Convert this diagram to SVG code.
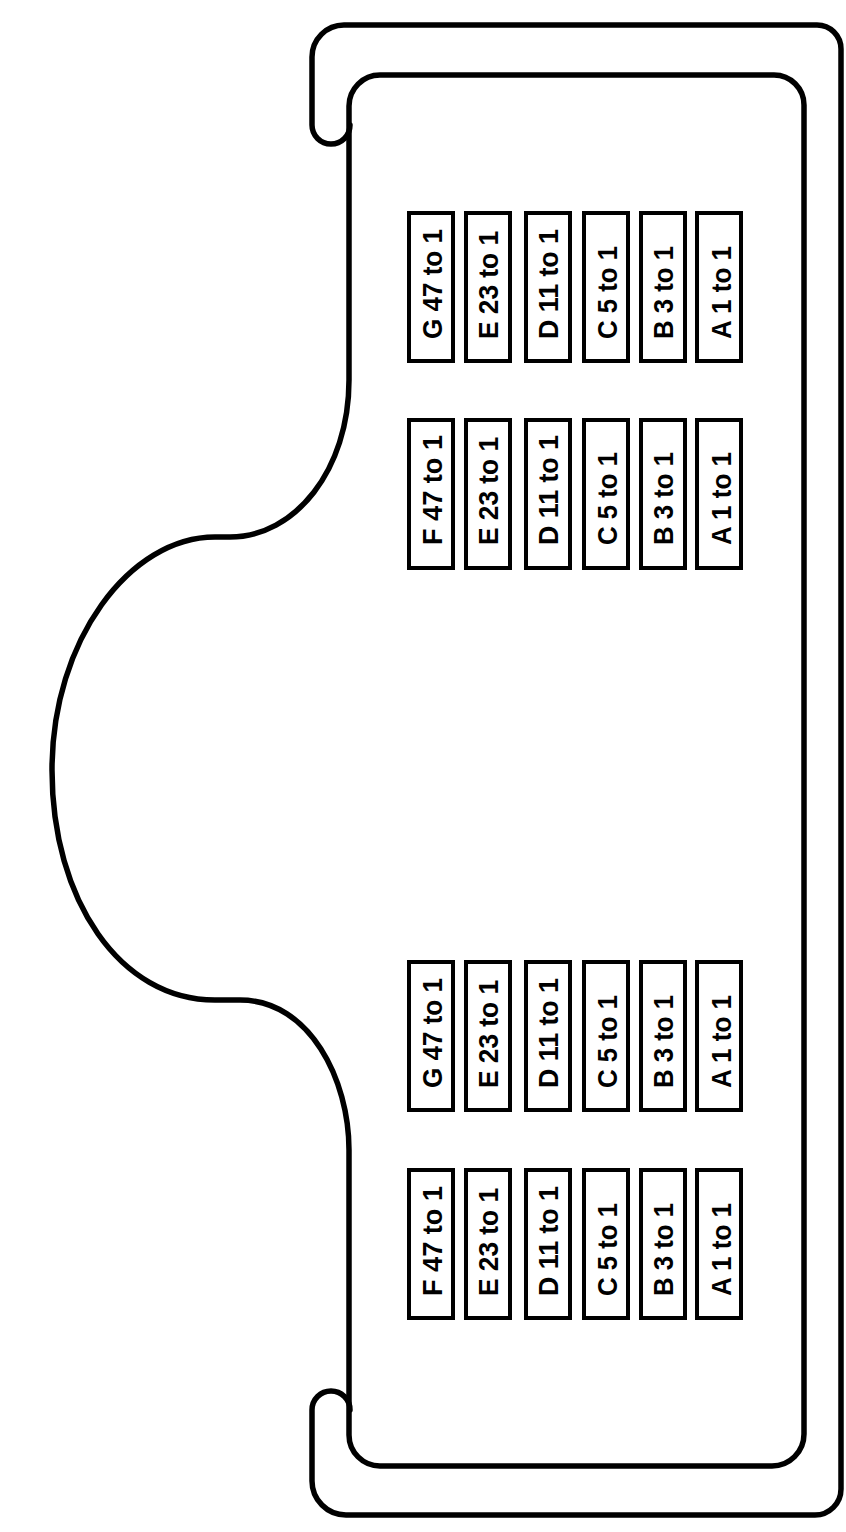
<svg xmlns="http://www.w3.org/2000/svg" width="846" height="1532" viewBox="0 0 846 1532">
<style>
.frame{fill:none;stroke:#000;stroke-width:5.5;stroke-linejoin:round;stroke-linecap:round}
.box{fill:#fff;stroke:#000;stroke-width:4}
.lbl{font-family:"Liberation Sans",Arial,sans-serif;font-weight:bold;font-size:27px;fill:#000}
</style>
<rect x="0" y="0" width="846" height="1532" fill="#fff"/>
<g id="housing">
<path class="frame" d="M 350,125 A 19 19 0 0 1 312,125 L 312,57 A 32 32 0 0 1 344,25 L 817,25 A 24 24 0 0 1 841,49 L 841,1489 A 26 26 0 0 1 815,1515 L 346,1515 A 34 34 0 0 1 312,1481 L 312,1410 A 19 19 0 0 1 350,1410"/>
<path class="frame" d="M 380,75 L 774,75 A 30 30 0 0 1 804,105 L 804,1434 A 32 32 0 0 1 772,1466 L 380,1466 A 31 31 0 0 1 349,1435 L 349,1150 C 349,1080 310,1000 240,1000 L 215,1000 C 120,1000 52,900 52,770 C 52,640 130,537 215,537 L 230,537 C 295,537 349,470 349,380 L 349,106 A 31 31 0 0 1 380,75 Z"/>
</g>
<g id="connectors"></g>

<g id="bank1">
<g id="b1-G"><rect class="box" x="409" y="213" width="44" height="148"/><text class="lbl" textLength="110" lengthAdjust="spacingAndGlyphs" transform="translate(442,339) rotate(-90)">G 47 to 1</text></g>
<g id="b1-E"><rect class="box" x="466" y="213" width="44" height="148"/><text class="lbl" textLength="108" lengthAdjust="spacingAndGlyphs" transform="translate(498,339) rotate(-90)">E 23 to 1</text></g>
<g id="b1-D"><rect class="box" x="526" y="213" width="44" height="148"/><text class="lbl" textLength="110" lengthAdjust="spacingAndGlyphs" transform="translate(558,339) rotate(-90)">D 11 to 1</text></g>
<g id="b1-C"><rect class="box" x="584" y="213" width="44" height="148"/><text class="lbl" textLength="93" lengthAdjust="spacingAndGlyphs" transform="translate(617,339) rotate(-90)">C 5 to 1</text></g>
<g id="b1-B"><rect class="box" x="641" y="213" width="44" height="148"/><text class="lbl" textLength="93" lengthAdjust="spacingAndGlyphs" transform="translate(673,339) rotate(-90)">B 3 to 1</text></g>
<g id="b1-A"><rect class="box" x="697" y="213" width="44" height="148"/><text class="lbl" textLength="93" lengthAdjust="spacingAndGlyphs" transform="translate(731,339) rotate(-90)">A 1 to 1</text></g>
</g>

<g id="bank2">
<g id="b2-F"><rect class="box" x="409" y="420" width="44" height="148"/><text class="lbl" textLength="110" lengthAdjust="spacingAndGlyphs" transform="translate(442,545) rotate(-90)">F 47 to 1</text></g>
<g id="b2-E"><rect class="box" x="466" y="420" width="44" height="148"/><text class="lbl" textLength="108" lengthAdjust="spacingAndGlyphs" transform="translate(498,545) rotate(-90)">E 23 to 1</text></g>
<g id="b2-D"><rect class="box" x="526" y="420" width="44" height="148"/><text class="lbl" textLength="110" lengthAdjust="spacingAndGlyphs" transform="translate(558,545) rotate(-90)">D 11 to 1</text></g>
<g id="b2-C"><rect class="box" x="584" y="420" width="44" height="148"/><text class="lbl" textLength="93" lengthAdjust="spacingAndGlyphs" transform="translate(617,545) rotate(-90)">C 5 to 1</text></g>
<g id="b2-B"><rect class="box" x="641" y="420" width="44" height="148"/><text class="lbl" textLength="93" lengthAdjust="spacingAndGlyphs" transform="translate(673,545) rotate(-90)">B 3 to 1</text></g>
<g id="b2-A"><rect class="box" x="697" y="420" width="44" height="148"/><text class="lbl" textLength="93" lengthAdjust="spacingAndGlyphs" transform="translate(731,545) rotate(-90)">A 1 to 1</text></g>
</g>

<g id="bank3">
<g id="b3-G"><rect class="box" x="409" y="962" width="44" height="148"/><text class="lbl" textLength="110" lengthAdjust="spacingAndGlyphs" transform="translate(442,1088) rotate(-90)">G 47 to 1</text></g>
<g id="b3-E"><rect class="box" x="466" y="962" width="44" height="148"/><text class="lbl" textLength="108" lengthAdjust="spacingAndGlyphs" transform="translate(498,1088) rotate(-90)">E 23 to 1</text></g>
<g id="b3-D"><rect class="box" x="526" y="962" width="44" height="148"/><text class="lbl" textLength="110" lengthAdjust="spacingAndGlyphs" transform="translate(558,1088) rotate(-90)">D 11 to 1</text></g>
<g id="b3-C"><rect class="box" x="584" y="962" width="44" height="148"/><text class="lbl" textLength="93" lengthAdjust="spacingAndGlyphs" transform="translate(617,1088) rotate(-90)">C 5 to 1</text></g>
<g id="b3-B"><rect class="box" x="641" y="962" width="44" height="148"/><text class="lbl" textLength="93" lengthAdjust="spacingAndGlyphs" transform="translate(673,1088) rotate(-90)">B 3 to 1</text></g>
<g id="b3-A"><rect class="box" x="697" y="962" width="44" height="148"/><text class="lbl" textLength="93" lengthAdjust="spacingAndGlyphs" transform="translate(731,1088) rotate(-90)">A 1 to 1</text></g>
</g>

<g id="bank4">
<g id="b4-F"><rect class="box" x="409" y="1170" width="44" height="148"/><text class="lbl" textLength="110" lengthAdjust="spacingAndGlyphs" transform="translate(442,1296) rotate(-90)">F 47 to 1</text></g>
<g id="b4-E"><rect class="box" x="466" y="1170" width="44" height="148"/><text class="lbl" textLength="108" lengthAdjust="spacingAndGlyphs" transform="translate(498,1296) rotate(-90)">E 23 to 1</text></g>
<g id="b4-D"><rect class="box" x="526" y="1170" width="44" height="148"/><text class="lbl" textLength="110" lengthAdjust="spacingAndGlyphs" transform="translate(558,1296) rotate(-90)">D 11 to 1</text></g>
<g id="b4-C"><rect class="box" x="584" y="1170" width="44" height="148"/><text class="lbl" textLength="93" lengthAdjust="spacingAndGlyphs" transform="translate(617,1296) rotate(-90)">C 5 to 1</text></g>
<g id="b4-B"><rect class="box" x="641" y="1170" width="44" height="148"/><text class="lbl" textLength="93" lengthAdjust="spacingAndGlyphs" transform="translate(673,1296) rotate(-90)">B 3 to 1</text></g>
<g id="b4-A"><rect class="box" x="697" y="1170" width="44" height="148"/><text class="lbl" textLength="93" lengthAdjust="spacingAndGlyphs" transform="translate(731,1296) rotate(-90)">A 1 to 1</text></g>
</g>
</svg>
